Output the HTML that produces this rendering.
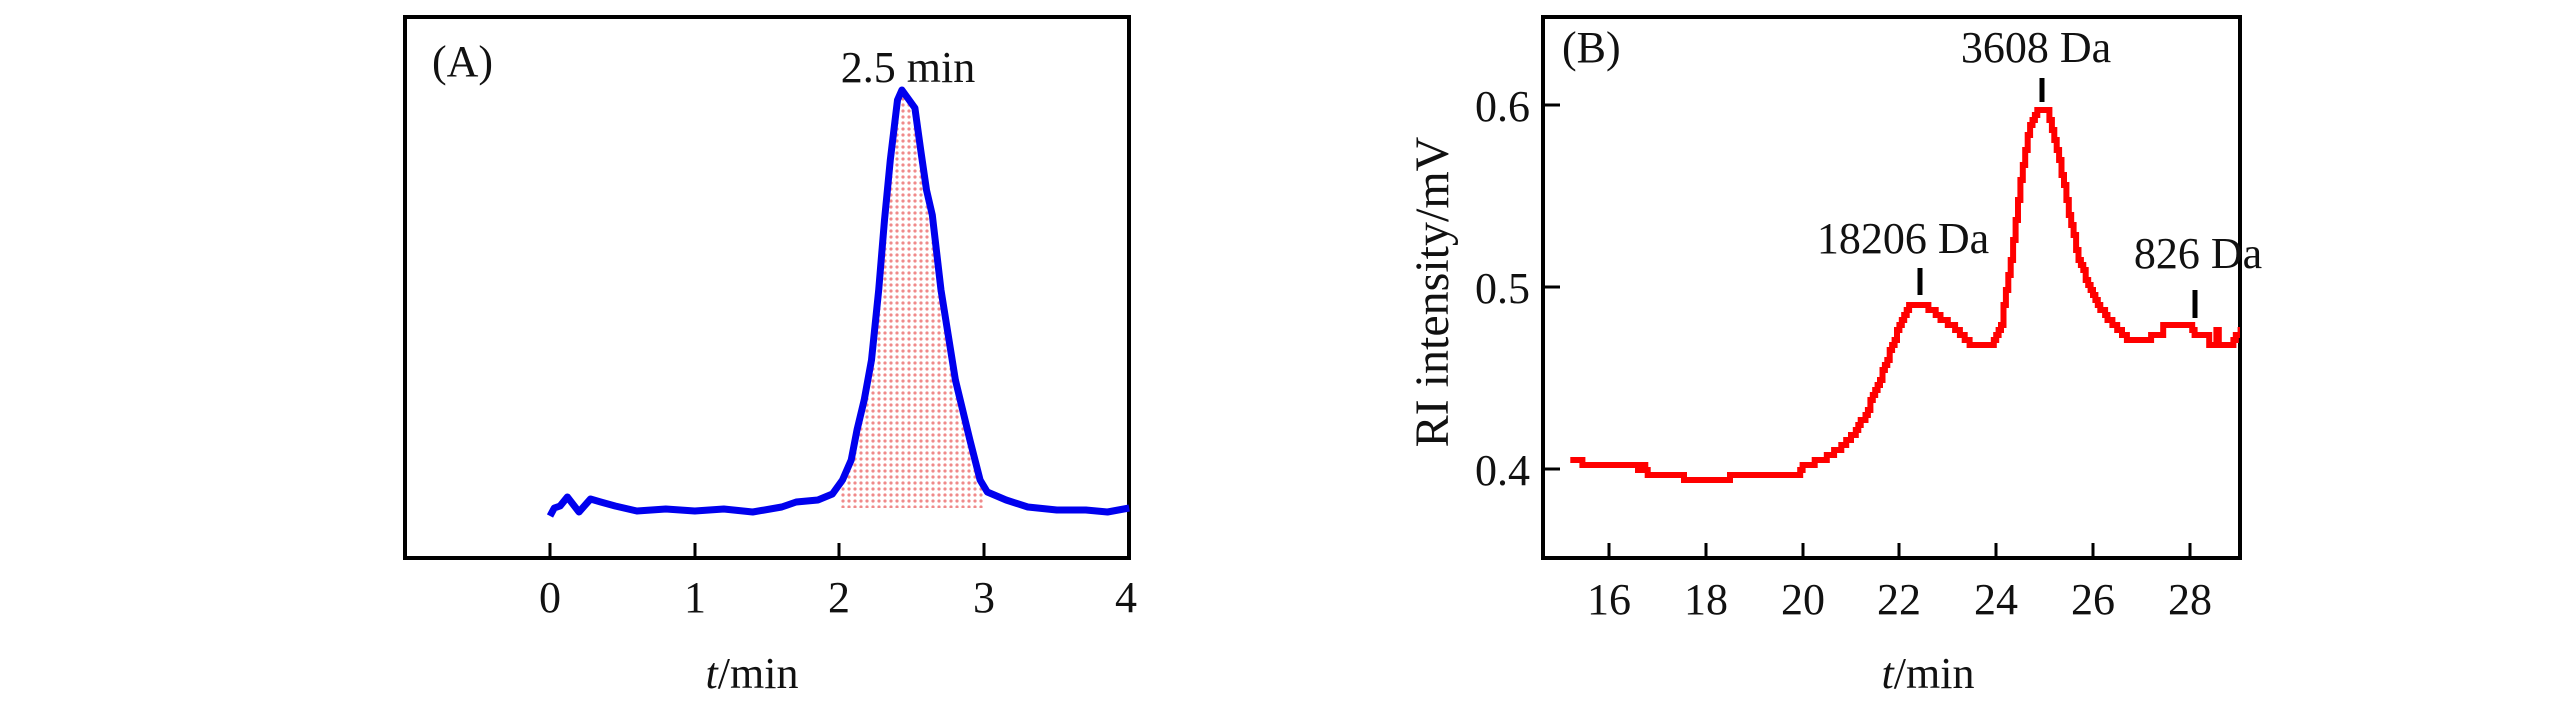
<!DOCTYPE html>
<html><head><meta charset="utf-8"><style>
html,body{margin:0;padding:0;background:#fff;}
svg{display:block;}
text{font-family:"Liberation Serif",serif;fill:#111;}
</style></head><body>
<svg id="s" width="2567" height="709" viewBox="0 0 2567 709" xmlns="http://www.w3.org/2000/svg">
<defs>
<pattern id="dots" width="6" height="6" patternUnits="userSpaceOnUse">
<rect width="6" height="6" fill="#fff"/>
<circle cx="3" cy="3" r="1.6" fill="#f08a8a"/>
</pattern>
<clipPath id="cb"><rect x="1543" y="17" width="697" height="541"/></clipPath>
</defs>
<!-- Panel A -->
<rect x="405" y="17" width="724" height="541" fill="none" stroke="#000" stroke-width="4"/>
<g stroke="#000" stroke-width="3">
<line x1="550" y1="558" x2="550" y2="543"/>
<line x1="695" y1="558" x2="695" y2="543"/>
<line x1="839" y1="558" x2="839" y2="543"/>
<line x1="984" y1="558" x2="984" y2="543"/>
</g>
<g font-size="44" text-anchor="middle">
<text x="550" y="612">0</text><text x="695" y="612">1</text><text x="839" y="612">2</text><text x="984" y="612">3</text><text x="1126" y="612">4</text>
<text x="752" y="688"><tspan font-style="italic">t</tspan>/min</text>
</g>
<text x="432" y="76" font-size="44">(A)</text>
<text x="908" y="82" font-size="44" text-anchor="middle">2.5 min</text>
<path id="fillA" fill="url(#dots)" stroke="none"/>
<path id="lineA" fill="none" stroke="#0000ee" stroke-width="7" stroke-linejoin="round"/>
<!-- Panel B -->
<rect x="1543" y="17" width="697" height="541" fill="none" stroke="#000" stroke-width="4"/>
<g stroke="#000" stroke-width="3">
<line x1="1543" y1="105" x2="1560" y2="105"/>
<line x1="1543" y1="287" x2="1560" y2="287"/>
<line x1="1543" y1="469" x2="1560" y2="469"/>
<line x1="1609" y1="558" x2="1609" y2="543"/>
<line x1="1706" y1="558" x2="1706" y2="543"/>
<line x1="1803" y1="558" x2="1803" y2="543"/>
<line x1="1899" y1="558" x2="1899" y2="543"/>
<line x1="1996" y1="558" x2="1996" y2="543"/>
<line x1="2093" y1="558" x2="2093" y2="543"/>
<line x1="2190" y1="558" x2="2190" y2="543"/>
</g>
<g stroke="#000" stroke-width="5">
<line x1="1920" y1="268" x2="1920" y2="295"/>
<line x1="2042" y1="78" x2="2042" y2="102"/>
<line x1="2195" y1="290" x2="2195" y2="318"/>
</g>
<g font-size="44" text-anchor="end">
<text x="1530" y="121">0.6</text><text x="1530" y="303">0.5</text><text x="1530" y="485">0.4</text>
</g>
<g font-size="44" text-anchor="middle">
<text x="1609" y="614">16</text><text x="1706" y="614">18</text><text x="1803" y="614">20</text><text x="1899" y="614">22</text><text x="1996" y="614">24</text><text x="2093" y="614">26</text><text x="2190" y="614">28</text>
<text x="1928" y="688"><tspan font-style="italic">t</tspan>/min</text>
<text x="1903" y="253">18206 Da</text>
<text x="2036" y="62">3608 Da</text>
<text x="2198" y="268">826 Da</text>
<text transform="translate(1448,292) rotate(-90)" font-size="48">RI intensity/mV</text>
</g>
<text x="1562" y="62" font-size="44">(B)</text>
<path id="lineB" fill="none" stroke="#ff0000" stroke-width="6" stroke-linejoin="miter" clip-path="url(#cb)"/>
</svg>
<script>
var ax=function(t){return 550+t*144.8;};
var ptsA=[[0,516],[0.03,508],[0.07,506],[0.12,497],[0.2,512],[0.28,499],[0.35,502],[0.45,506],[0.6,511],[0.8,509],[1.0,511],[1.2,509],[1.4,512],[1.6,507],[1.7,502],[1.85,500],[1.95,494],[2.02,480],[2.08,460],[2.12,430],[2.17,400],[2.22,360],[2.27,290],[2.31,220],[2.35,160],[2.4,100],[2.43,90],[2.47,98],[2.52,108],[2.56,150],[2.6,190],[2.64,215],[2.7,290],[2.8,380],[2.9,440],[2.97,480],[3.02,492],[3.15,500],[3.3,507],[3.5,510],[3.7,510],[3.85,512],[4.0,508]];
var dA="";
for(var i=0;i<ptsA.length;i++){var p=ptsA[i];dA+=(i?"L":"M")+ax(p[0]).toFixed(1)+","+p[1]+" ";}
document.getElementById("lineA").setAttribute("d",dA);
var fa="M"+ax(2)+",508 ";
for(var i=0;i<ptsA.length;i++){var p=ptsA[i];if(p[0]>=2.02&&p[0]<=2.97)fa+="L"+ax(p[0]).toFixed(1)+","+p[1]+" ";}
fa+="L"+ax(3)+",490 L"+ax(3)+",508 Z";
document.getElementById("fillA").setAttribute("d",fa);
var bx=function(t){return 1609+(t-16)*48.4;};
var by=function(v){return 469-(v-0.4)*1820;};
var k=[[15.2,0.405],[15.4,0.405],[15.45,0.402],[16.55,0.402],[16.62,0.398],[16.7,0.402],[16.8,0.398],[17.5,0.398],[17.55,0.393],[18.45,0.393],[18.5,0.398],[19.9,0.398],[20.0,0.402],[20.4,0.405],[20.7,0.41],[21.0,0.418],[21.3,0.43],[21.6,0.45],[21.9,0.472],[22.2,0.49],[22.5,0.49],[22.8,0.484],[23.2,0.476],[23.5,0.468],[23.9,0.467],[24.1,0.48],[24.3,0.515],[24.5,0.56],[24.7,0.59],[24.85,0.598],[25.05,0.596],[25.3,0.57],[25.5,0.54],[25.7,0.515],[26.0,0.495],[26.3,0.482],[26.6,0.474],[26.8,0.47],[27.1,0.47],[27.2,0.474],[27.4,0.474],[27.45,0.478],[28.0,0.478],[28.1,0.474],[28.35,0.474],[28.4,0.469],[28.5,0.469],[28.55,0.476],[28.6,0.469],[28.85,0.469],[28.95,0.474],[29.1,0.476]];
function interp(t){for(var i=1;i<k.length;i++){if(t<=k[i][0]){var a=k[i-1],b=k[i];var f=(t-a[0])/(b[0]-a[0]);return a[1]+f*(b[1]-a[1]);}}return k[k.length-1][1];}
var dB="",prevY=null;
for(var t=15.2;t<=29.1;t+=0.05){var v=interp(t);var y=Math.round(by(v)/5)*5;var x=bx(t);
if(prevY===null){dB="M"+x.toFixed(1)+","+y;}else{if(y!==prevY)dB+=" L"+x.toFixed(1)+","+prevY+" L"+x.toFixed(1)+","+y;}
prevY=y;}
dB+=" L"+bx(29.1).toFixed(1)+","+prevY;
document.getElementById("lineB").setAttribute("d",dB);
</script>
</body></html>
